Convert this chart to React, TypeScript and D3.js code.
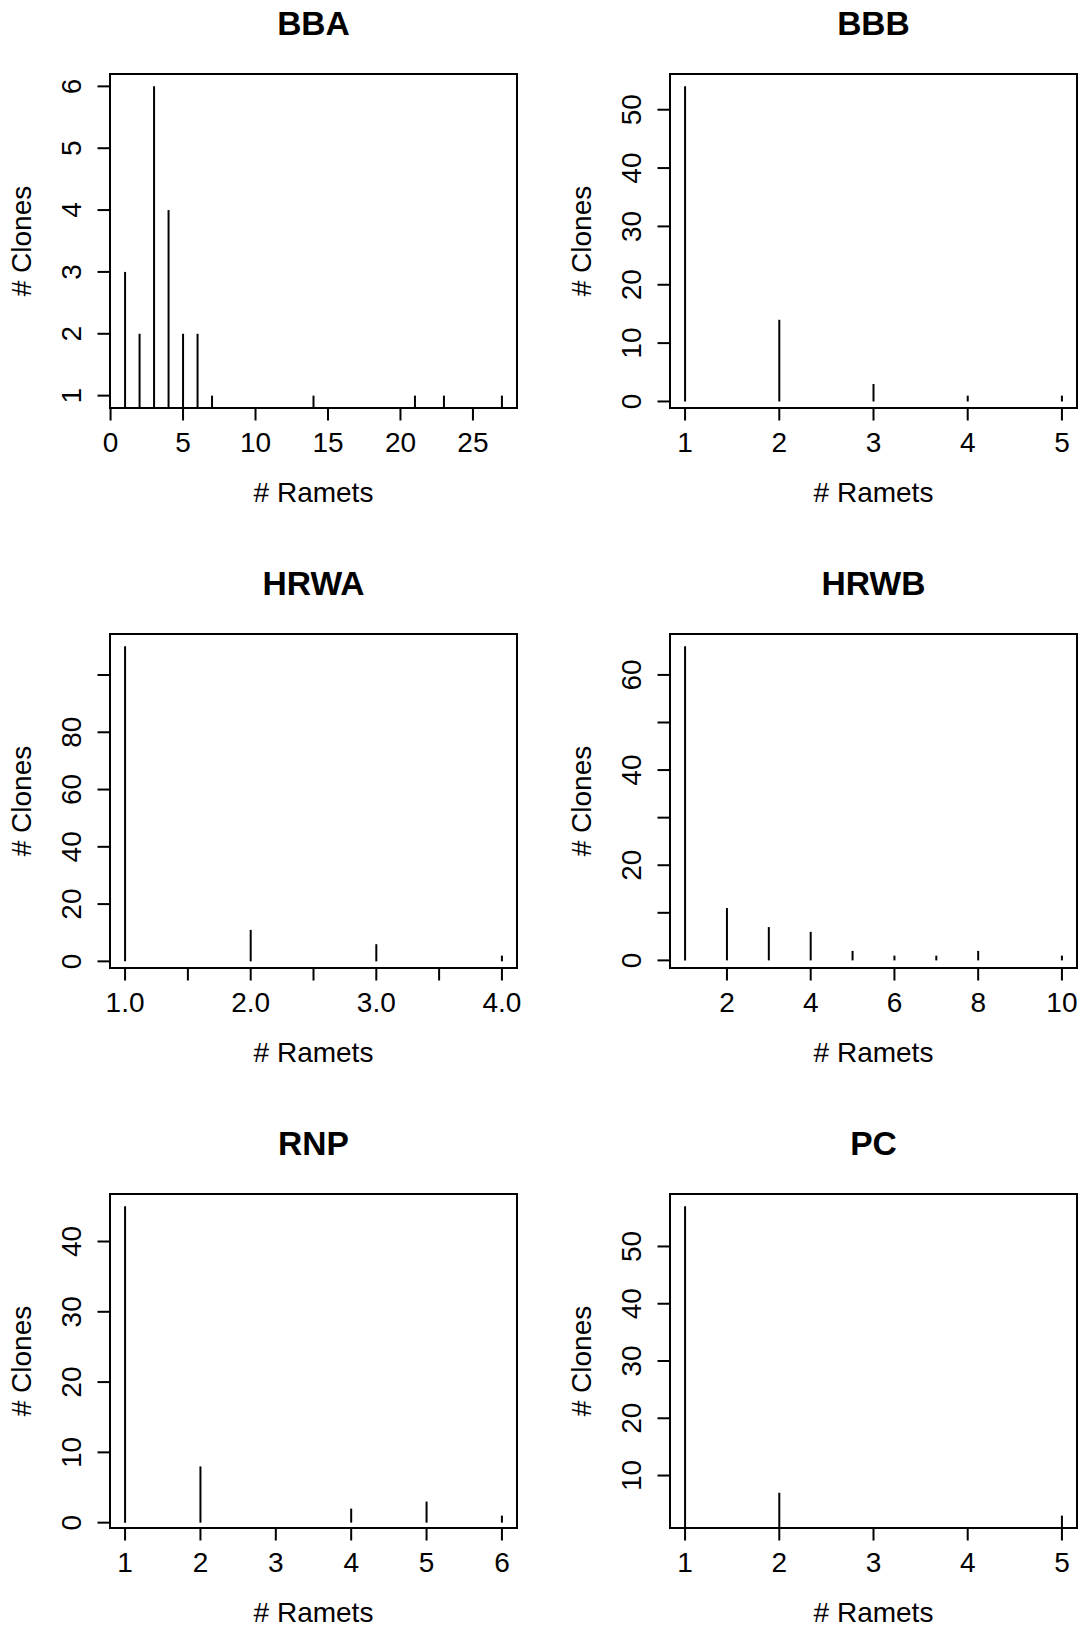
import React from "react";
import * as d3 from "d3";

// ---- Data ----
const bbaRamets = [1, 2, 3, 4, 5, 6, 7, 14, 21, 23, 27];
const bbaClones = [3, 2, 6, 4, 2, 2, 1, 1, 1, 1, 1];
const bbaXTicks = [0, 5, 10, 15, 20, 25];
const bbaYTicks = [1, 2, 3, 4, 5, 6];

const bbbRamets = [1, 2, 3, 4, 5];
const bbbClones = [54, 14, 3, 1, 1];
const bbbXTicks = [1, 2, 3, 4, 5];
const bbbYTicks = [0, 10, 20, 30, 40, 50];

const hrwaRamets = [1, 2, 3, 4];
const hrwaClones = [110, 11, 6, 2];
const hrwaXTicks = [1, 1.5, 2, 2.5, 3, 3.5, 4];
const hrwaXLabels = ["1.0", "", "2.0", "", "3.0", "", "4.0"];
const hrwaYTicks = [0, 20, 40, 60, 80, 100];
const hrwaYLabels = ["0", "20", "40", "60", "80", ""];

const hrwbRamets = [1, 2, 3, 4, 5, 6, 7, 8, 10];
const hrwbClones = [66, 11, 7, 6, 2, 1, 1, 2, 1];
const hrwbXTicks = [2, 4, 6, 8, 10];
const hrwbYTicks = [0, 10, 20, 30, 40, 50, 60];
const hrwbYLabels = ["0", "", "20", "", "40", "", "60"];

const rnpRamets = [1, 2, 4, 5, 6];
const rnpClones = [45, 8, 2, 3, 1];
const rnpXTicks = [1, 2, 3, 4, 5, 6];
const rnpYTicks = [0, 10, 20, 30, 40];

const pcRamets = [1, 2, 5];
const pcClones = [57, 7, 3];
const pcXTicks = [1, 2, 3, 4, 5];
const pcYTicks = [10, 20, 30, 40, 50];

const titles = ["BBA", "BBB", "HRWA", "HRWB", "RNP", "PC"];
const xTitle = "# Ramets";
const yTitle = "# Clones";

type Panel = {
  title: string;
  xs: number[];
  ys: number[];
  xTicks: number[];
  xLabels?: string[];
  yTicks: number[];
  yLabels?: string[];
};

const panels: Panel[] = [
  { title: titles[0], xs: bbaRamets, ys: bbaClones, xTicks: bbaXTicks, yTicks: bbaYTicks },
  { title: titles[1], xs: bbbRamets, ys: bbbClones, xTicks: bbbXTicks, yTicks: bbbYTicks },
  { title: titles[2], xs: hrwaRamets, ys: hrwaClones, xTicks: hrwaXTicks, xLabels: hrwaXLabels, yTicks: hrwaYTicks, yLabels: hrwaYLabels },
  { title: titles[3], xs: hrwbRamets, ys: hrwbClones, xTicks: hrwbXTicks, yTicks: hrwbYTicks, yLabels: hrwbYLabels },
  { title: titles[4], xs: rnpRamets, ys: rnpClones, xTicks: rnpXTicks, yTicks: rnpYTicks },
  { title: titles[5], xs: pcRamets, ys: pcClones, xTicks: pcXTicks, yTicks: pcYTicks },
];

// ---- Layout ----
const W = 1081;
const H = 1629;
const CELL = 560;
const BOX_L = 110;
const BOX_R = 517;
const BOX_T = 74;
const BOX_B = 408;
const TICK = 12.5;
const FONT = "'Liberation Sans', Arial, Helvetica, sans-serif";
const FS = 28;
const FS_TITLE = 33.6;

function rDomain(vals: number[]): [number, number] {
  const [lo, hi] = d3.extent(vals) as [number, number];
  const pad = (hi - lo) * 0.04;
  return [lo - pad, hi + pad];
}

function PanelView({ p, col, row }: { p: Panel; col: number; row: number }) {
  const ox = col * CELL;
  const oy = row * CELL;
  const x = d3.scaleLinear().domain(rDomain(p.xs)).range([BOX_L, BOX_R]);
  const y = d3.scaleLinear().domain(rDomain(p.ys)).range([BOX_B, BOX_T]);
  const cx = (BOX_L + BOX_R) / 2;
  const cy = (BOX_T + BOX_B) / 2;
  const fmtX = (v: number, i: number) => (p.xLabels ? p.xLabels[i] : String(v));
  const fmtY = (v: number, i: number) => (p.yLabels ? p.yLabels[i] : String(v));
  return (
    <g transform={`translate(${ox},${oy})`}>
      <text
        x={cx}
        y={35}
        textAnchor="middle"
        fontFamily={FONT}
        fontWeight="bold"
        fontSize={FS_TITLE}
      >
        {p.title}
      </text>
      {/* bars (type = "h") */}
      {p.xs.map((xv, i) => (
        <line
          key={"b" + i}
          x1={x(xv)}
          x2={x(xv)}
          y1={Math.min(y(0), BOX_B)}
          y2={y(p.ys[i])}
          stroke="#000"
          strokeWidth={2}
        />
      ))}
      {/* box */}
      <rect
        x={BOX_L}
        y={BOX_T}
        width={BOX_R - BOX_L}
        height={BOX_B - BOX_T}
        fill="none"
        stroke="#000"
        strokeWidth={2}
      />
      {/* x axis ticks */}
      {p.xTicks.map((t, i) => (
        <g key={"xt" + i}>
          <line x1={x(t)} x2={x(t)} y1={BOX_B} y2={BOX_B + TICK} stroke="#000" strokeWidth={2} />
          <text
            x={x(t)}
            y={452}
            textAnchor="middle"
            fontFamily={FONT}
            fontSize={FS}
          >
            {fmtX(t, i)}
          </text>
        </g>
      ))}
      {/* y axis ticks */}
      {p.yTicks.map((t, i) => (
        <g key={"yt" + i}>
          <line x1={BOX_L} x2={BOX_L - TICK} y1={y(t)} y2={y(t)} stroke="#000" strokeWidth={2} />
          <text
            transform={`translate(${71},${y(t)}) rotate(-90)`}
            textAnchor="middle"
            dy="0.36em"
            fontFamily={FONT}
            fontSize={FS}
          >
            {fmtY(t, i)}
          </text>
        </g>
      ))}
      <text x={cx} y={502} textAnchor="middle" fontFamily={FONT} fontSize={FS}>
        {xTitle}
      </text>
      <text
        transform={`translate(${21},${cy}) rotate(-90)`}
        textAnchor="middle"
        dy="0.36em"
        fontFamily={FONT}
        fontSize={FS}
      >
        {yTitle}
      </text>
    </g>
  );
}

export default function App() {
  return (
    <svg
      width={W}
      height={H}
      viewBox={`0 0 ${W} ${H}`}
      style={{ position: "absolute", left: 0, top: 0, display: "block", background: "#fff" }}
    >
      <rect x={0} y={0} width={W} height={H} fill="#fff" />
      {panels.map((p, i) => (
        <PanelView key={p.title} p={p} col={i % 2} row={Math.floor(i / 2)} />
      ))}
    </svg>
  );
}
